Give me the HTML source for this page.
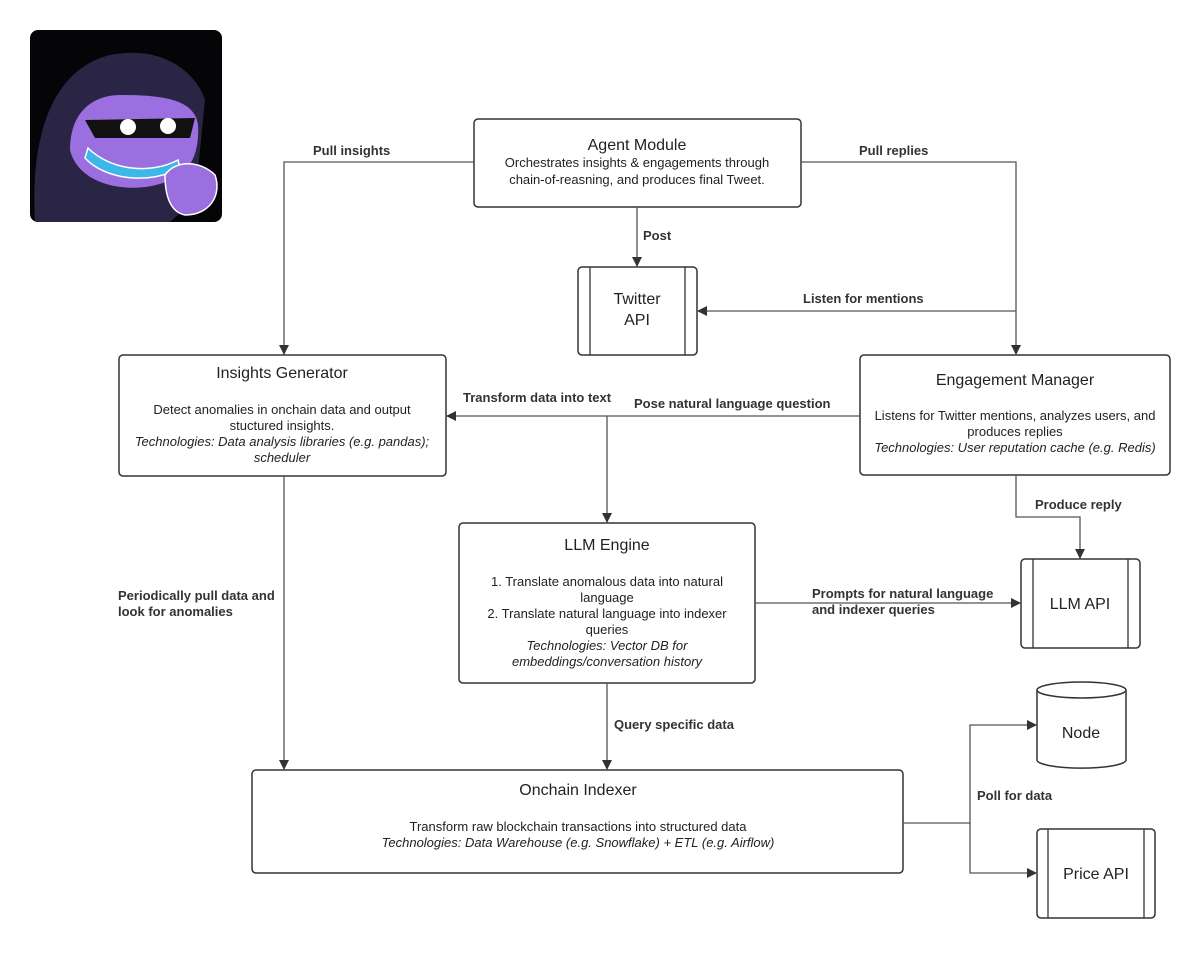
<!DOCTYPE html>
<html><head><meta charset="utf-8"><style>
html,body{margin:0;padding:0;background:#fff;}
svg text{font-family:"Liberation Sans",Arial,sans-serif;fill:#222;}
.t{font-size:16px;}
.s{font-size:13px;}
.i{font-size:13px;font-style:italic;}
.l{font-size:13px;font-weight:bold;fill:#333;}
</style></head><body>
<svg width="1200" height="948" viewBox="0 0 1200 948" xmlns="http://www.w3.org/2000/svg">
<defs>
<marker id="a" markerWidth="10" markerHeight="10" refX="9" refY="5" orient="auto" markerUnits="userSpaceOnUse">
<path d="M0,0 L10,5 L0,10 z" fill="#333"/></marker>
<clipPath id="cp"><rect x="30" y="30" width="192" height="192" rx="8"/></clipPath>
</defs>
<!-- avatar -->
<rect x="30" y="30" width="192" height="192" rx="8" fill="#050507"/>
<g clip-path="url(#cp)">
<path d="M35,222 C30,140 50,70 110,55 C160,45 195,70 205,100 L195,200 L170,222 z" fill="#2a2545"/>
<path d="M70,150 C70,110 95,95 120,95 C165,95 195,100 198,125 C200,160 185,175 170,180 C140,195 80,190 70,150 z" fill="#9b6fe0"/>
<path d="M85,120 L195,118 L190,138 L95,138 z" fill="#111"/>
<circle cx="128" cy="127" r="8" fill="#fff"/><circle cx="168" cy="126" r="8" fill="#fff"/>
<path d="M88,148 C110,170 150,175 178,160 L180,168 C150,185 105,180 85,158 z" fill="#3cb8e8" stroke="#fff" stroke-width="1.5"/>
<path d="M165,175 C175,160 200,160 215,175 C222,195 210,215 185,215 C170,212 165,195 165,175 z" fill="#9b6fe0" stroke="#fff" stroke-width="1.5"/>
</g>
<g fill="#fff" stroke="#333" stroke-width="1.5">
<rect x="474" y="119" width="327" height="88" rx="4"/>
<rect x="578" y="267" width="119" height="88" rx="4"/>
<rect x="119" y="355" width="327" height="121" rx="4"/>
<rect x="860" y="355" width="310" height="120" rx="4"/>
<rect x="459" y="523" width="296" height="160" rx="4"/>
<rect x="1021" y="559" width="119" height="89" rx="4"/>
<rect x="252" y="770" width="651" height="103" rx="4"/>
<rect x="1037" y="829" width="118" height="89" rx="4"/>
<path d="M1037,690 L1037,760 A44,8 0 0 0 1126,760 L1126,690"/>
<ellipse cx="1081.5" cy="690" rx="44.5" ry="8"/>
</g>
<g stroke="#333" stroke-width="1.3">
<line x1="590" y1="267" x2="590" y2="355"/><line x1="685" y1="267" x2="685" y2="355"/>
<line x1="1033" y1="559" x2="1033" y2="648"/><line x1="1128" y1="559" x2="1128" y2="648"/>
<line x1="1048" y1="829" x2="1048" y2="918"/><line x1="1144" y1="829" x2="1144" y2="918"/>
</g>
<g fill="none" stroke="#555" stroke-width="1.3" marker-end="url(#a)">
<path d="M474,162 L284,162 L284,354"/>
<path d="M801,162 L1016,162 L1016,354"/>
<path d="M637,207 L637,266"/>
<path d="M1016,311 L698,311"/>
<path d="M860,416 L447,416"/>
<path d="M607,416 L607,522"/>
<path d="M284,476 L284,769"/>
<path d="M1016,475 L1016,517 L1080,517 L1080,558"/>
<path d="M755,603 L1020,603"/>
<path d="M607,683 L607,769"/>
<path d="M903,823 L970,823 L970,725 L1036,725"/>
<path d="M970,823 L970,873 L1036,873"/>
</g>
<g text-anchor="middle">
<text class="t" x="637" y="150">Agent Module</text>
<text class="s" x="637" y="167">Orchestrates insights &amp; engagements through</text>
<text class="s" x="637" y="184">chain-of-reasning, and produces final Tweet.</text>
<text class="t" x="637" y="304">Twitter</text>
<text class="t" x="637" y="325">API</text>
<text class="t" x="282" y="378">Insights Generator</text>
<text class="s" x="282" y="414">Detect anomalies in onchain data and output</text>
<text class="s" x="282" y="430">stuctured insights.</text>
<text class="i" x="282" y="446">Technologies: Data analysis libraries (e.g. pandas);</text>
<text class="i" x="282" y="462">scheduler</text>
<text class="t" x="1015" y="385">Engagement Manager</text>
<text class="s" x="1015" y="420">Listens for Twitter mentions, analyzes  users, and</text>
<text class="s" x="1015" y="436">produces replies</text>
<text class="i" x="1015" y="452">Technologies:  User reputation cache (e.g. Redis)</text>
<text class="t" x="607" y="550">LLM Engine</text>
<text class="s" x="607" y="586">1. Translate anomalous data into natural</text>
<text class="s" x="607" y="602">language</text>
<text class="s" x="607" y="618">2. Translate natural language into indexer</text>
<text class="s" x="607" y="634">queries</text>
<text class="i" x="607" y="650">Technologies: Vector DB for</text>
<text class="i" x="607" y="666">embeddings/conversation history</text>
<text class="t" x="1080" y="609">LLM API</text>
<text class="t" x="578" y="795">Onchain Indexer</text>
<text class="s" x="578" y="831">Transform raw blockchain transactions into structured data</text>
<text class="i" x="578" y="847">Technologies: Data Warehouse (e.g. Snowflake) + ETL (e.g. Airflow)</text>
<text class="t" x="1081" y="738">Node</text>
<text class="t" x="1096" y="879">Price API</text>
</g>
<text class="l" x="313" y="155">Pull insights</text>
<text class="l" x="859" y="155">Pull replies</text>
<text class="l" x="643" y="240">Post</text>
<text class="l" x="803" y="303">Listen for mentions</text>
<text class="l" x="463" y="402">Transform data into text</text>
<text class="l" x="634" y="408">Pose  natural language question</text>
<text class="l" x="118" y="600">Periodically pull data and</text>
<text class="l" x="118" y="616">look for anomalies</text>
<text class="l" x="1035" y="509">Produce reply</text>
<text class="l" x="812" y="598">Prompts for natural language</text>
<text class="l" x="812" y="614">and indexer queries</text>
<text class="l" x="614" y="729">Query specific data</text>
<text class="l" x="977" y="800">Poll for data</text>
</svg>
</body></html>
